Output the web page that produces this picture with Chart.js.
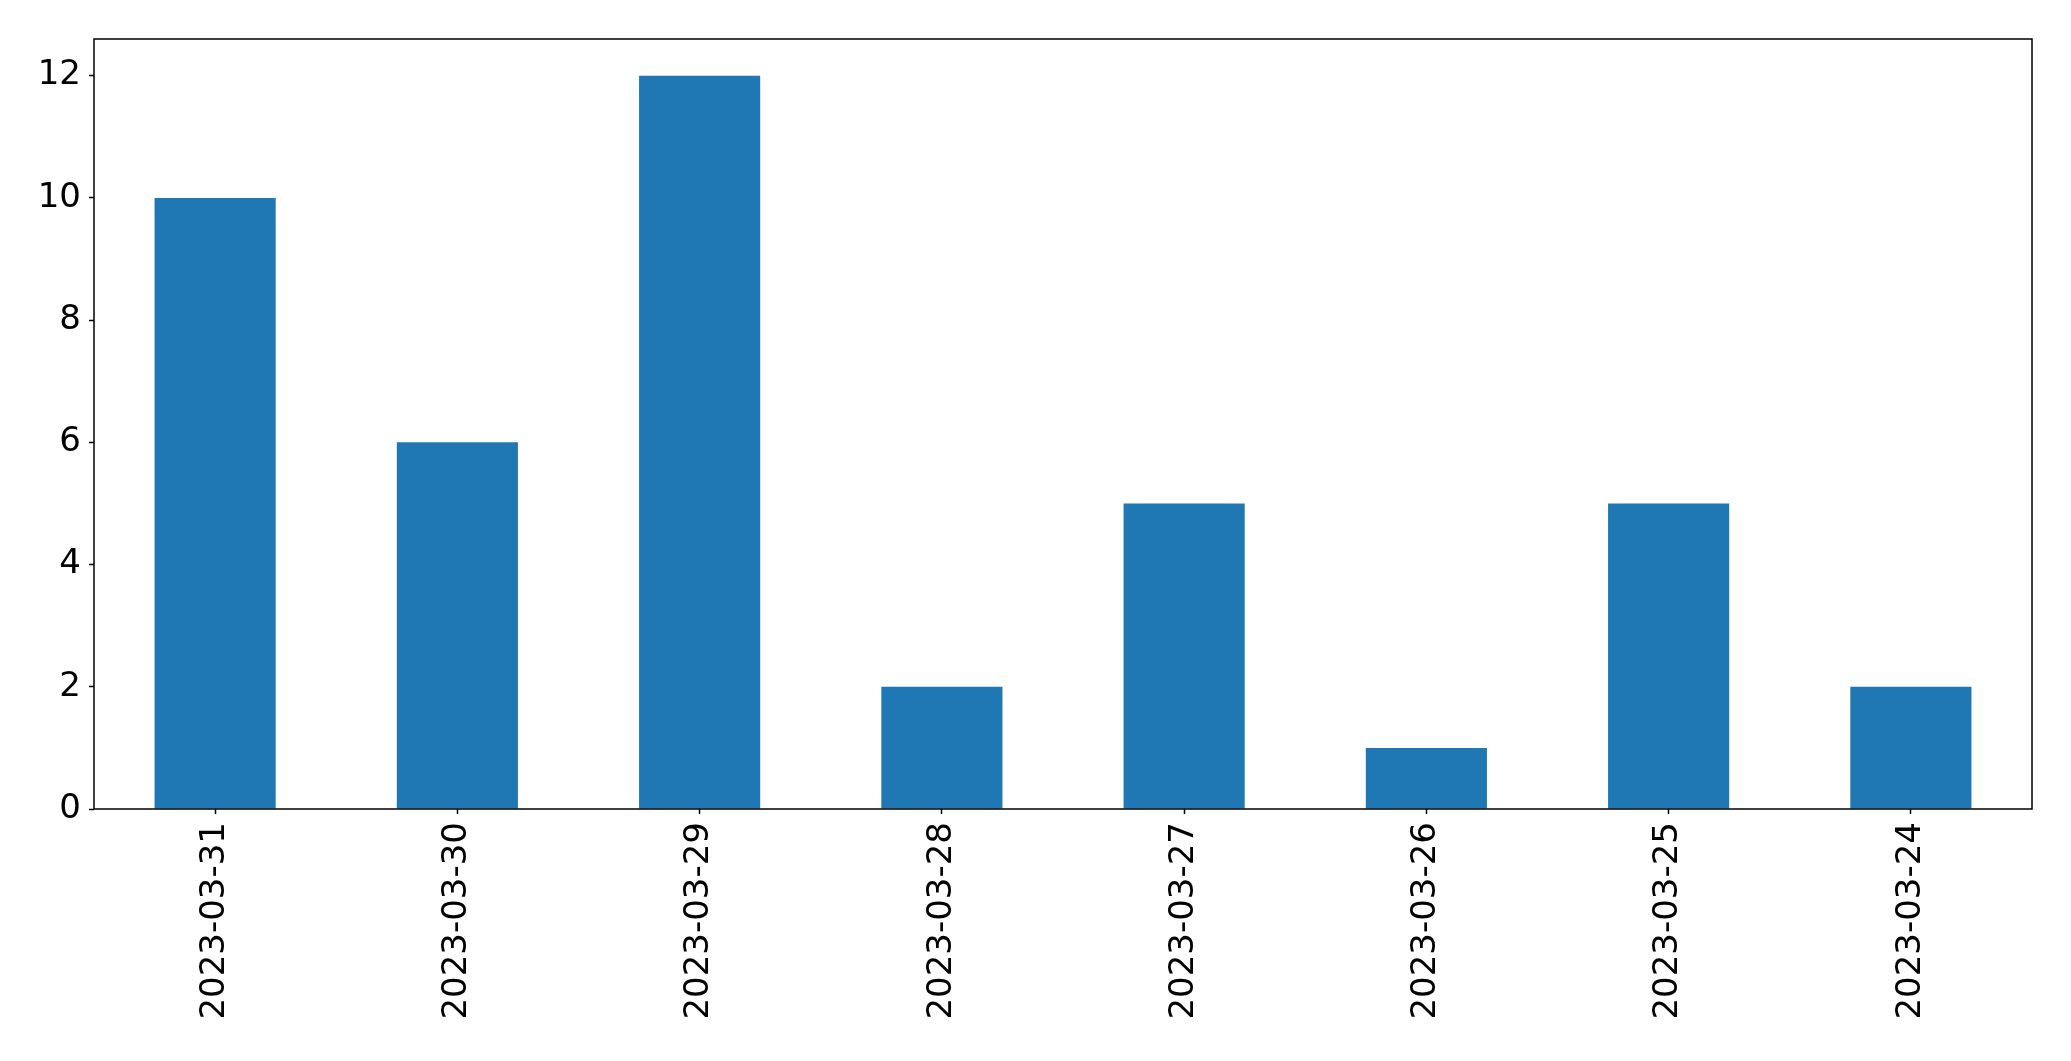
<!DOCTYPE html>
<html>
<head>
<meta charset="utf-8">
<script src="https://cdn.jsdelivr.net/npm/chart.js@4"></script>
<style>
  html, body { margin: 0; padding: 0; background: #fff; }
  #wrap { width: 2071px; height: 1061px; }
</style>
</head>
<body>
<div id="wrap"><canvas id="chart" width="2071" height="1061"></canvas></div>
<script>
// Dates (categories) in the order shown on the x axis
const dates = ['2023-03-31', '2023-03-30', '2023-03-29', '2023-03-28',
               '2023-03-27', '2023-03-26', '2023-03-25', '2023-03-24'];
// Counts per date
const counts = [10, 6, 12, 2, 5, 1, 5, 2];
// Y axis tick values
const yTicks = [0, 2, 4, 6, 8, 10, 12];

// Draw the full box around the plot area (matplotlib spines)
const boxPlugin = {
    id: 'box',
    afterDatasetsDraw(chart) {
        const a = chart.chartArea;
        const ctx = chart.ctx;
        ctx.save();
        ctx.strokeStyle = '#000';
        ctx.lineWidth = 1.5;
        ctx.strokeRect(a.left, a.top, a.right - a.left, a.bottom - a.top);
        ctx.restore();
    }
};

const font = { family: 'DejaVu Sans', size: 34 };

new Chart(document.getElementById('chart'), {
    type: 'bar',
    data: {
        labels: dates,
        datasets: [{
            data: counts,
            backgroundColor: '#1f77b4',
            borderWidth: 0,
            barPercentage: 0.5,
            categoryPercentage: 1.0
        }]
    },
    options: {
        responsive: false,
        animation: false,
        devicePixelRatio: 1,
        layout: { padding: { left: 0, top: 39, right: 39, bottom: 0 } },
        plugins: {
            legend: { display: false },
            tooltip: { enabled: false }
        },
        scales: {
            x: {
                offset: true,
                grid: {
                    display: true,
                    drawOnChartArea: false,
                    drawTicks: true,
                    tickLength: 5,
                    tickWidth: 1.5,
                    tickColor: '#000',
                    offset: false
                },
                border: { display: false },
                ticks: {
                    color: '#000',
                    font: font,
                    minRotation: 90,
                    maxRotation: 90,
                    autoSkip: false,
                    padding: 8
                },
                afterFit(scale) { scale.height = 252; }
            },
            y: {
                min: 0,
                max: 12.6,
                grid: {
                    display: true,
                    drawOnChartArea: false,
                    drawTicks: true,
                    tickLength: 5,
                    tickWidth: 1.5,
                    tickColor: '#000'
                },
                border: { display: false },
                ticks: {
                    color: '#000',
                    font: font,
                    padding: 8
                },
                afterBuildTicks(scale) {
                    scale.ticks = yTicks.map(v => ({ value: v }));
                },
                afterFit(scale) { scale.width = 94; }
            }
        }
    },
    plugins: [boxPlugin]
});
</script>
</body>
</html>
